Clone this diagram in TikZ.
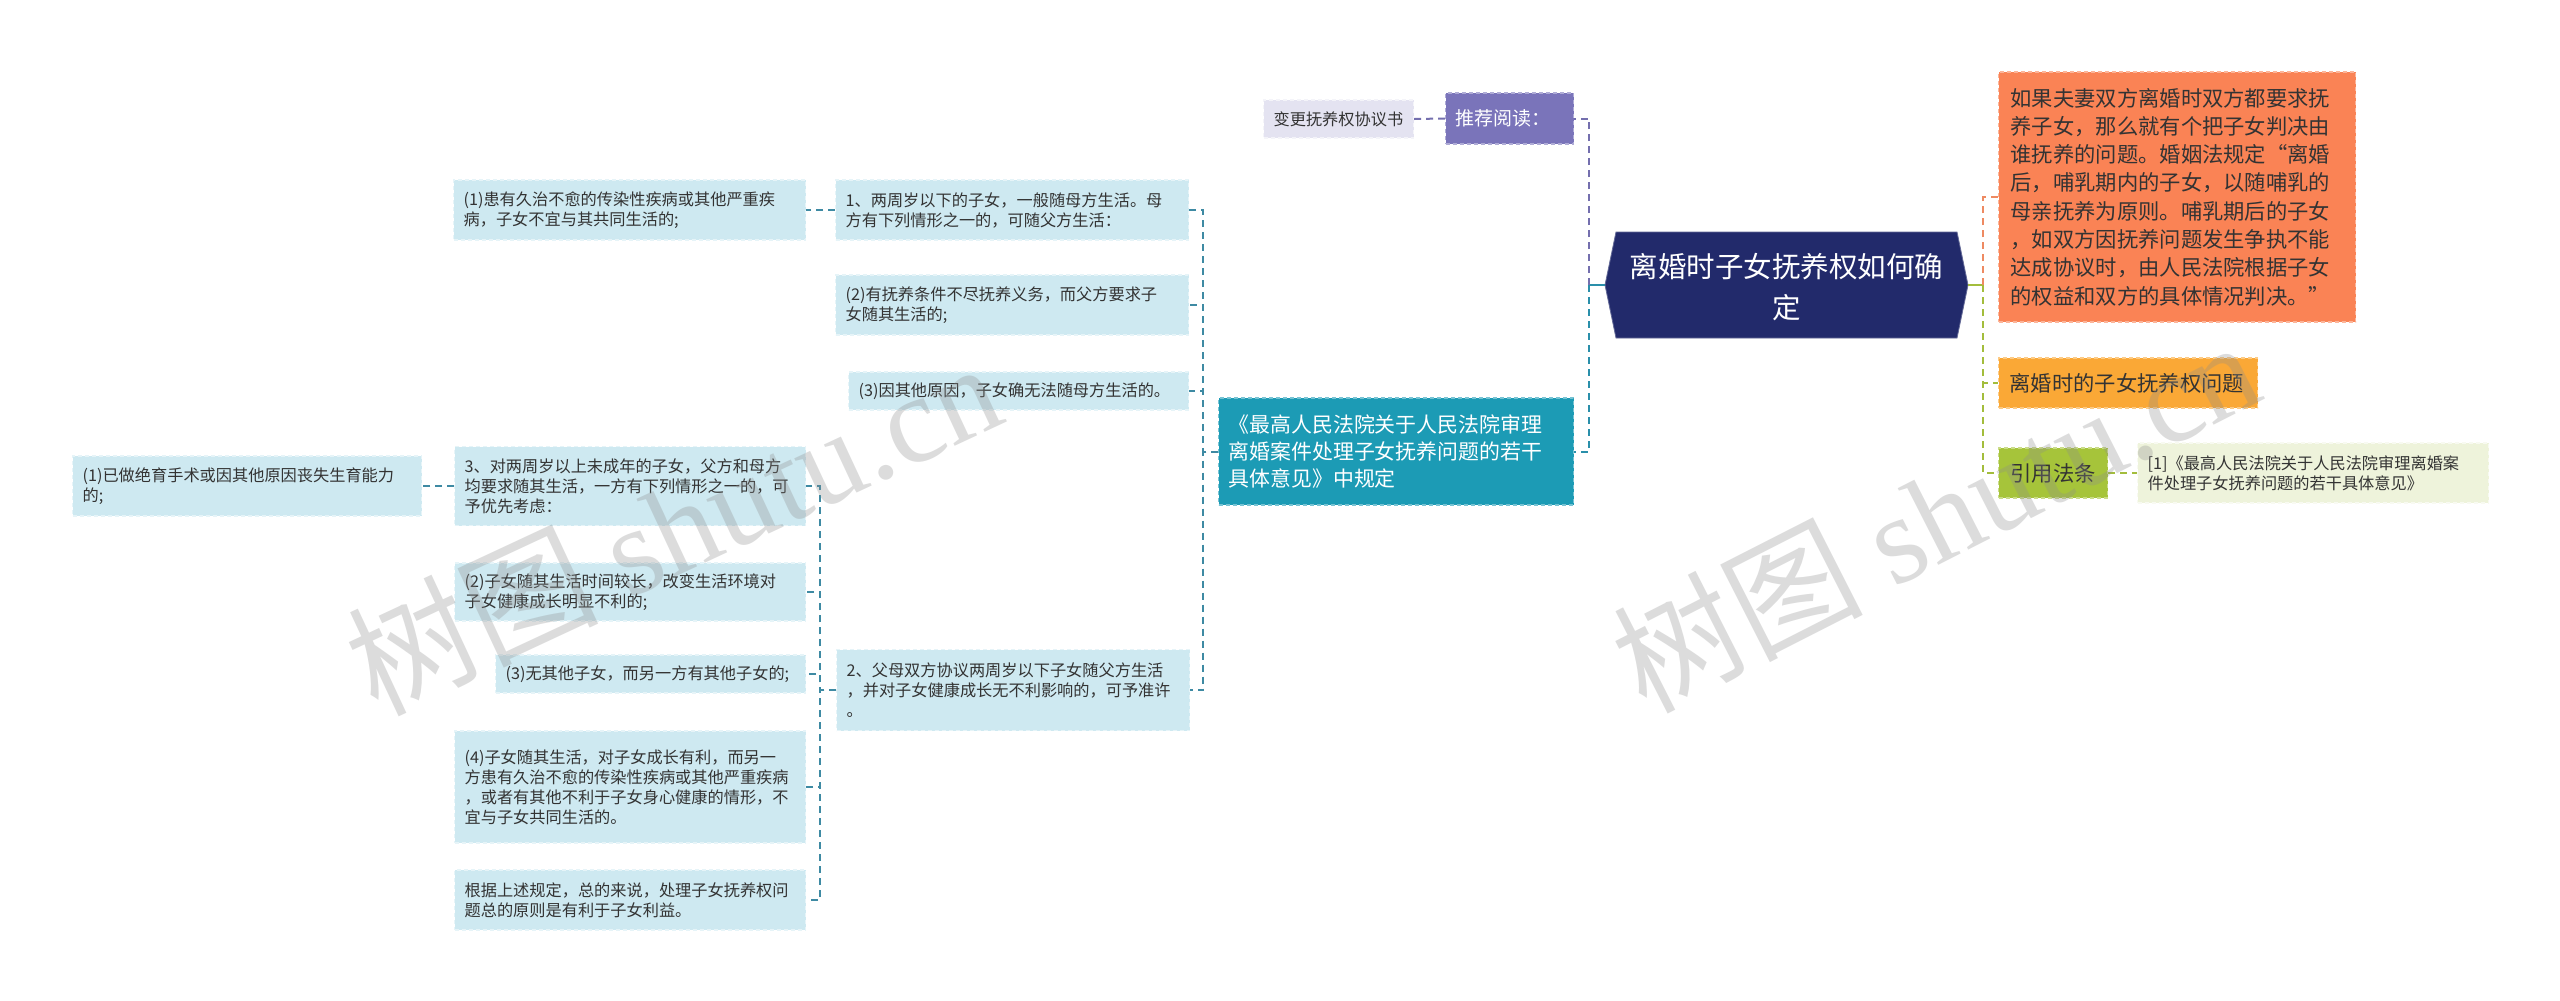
\documentclass[tikz,border=0pt]{standalone}
\usepackage{fontspec}
\setmainfont{Noto Sans CJK SC}
\newfontfamily\wmfont{Liberation Serif}
\usetikzlibrary{calc}
\definecolor{rootfill}{HTML}{222A6B}
\definecolor{lbfill}{HTML}{CEE9F1}
\definecolor{linec}{HTML}{3E8AA3}
\definecolor{tealfill}{HTML}{1C9BB5}
\definecolor{tealline}{HTML}{2A8FAA}
\definecolor{purpfill}{HTML}{7A74BA}
\definecolor{purpline}{HTML}{746FAE}
\definecolor{lavfill}{HTML}{E4E3F1}
\definecolor{orangefill}{HTML}{FA8355}
\definecolor{orangeline}{HTML}{EE8A62}
\definecolor{yellowfill}{HTML}{FAA836}
\definecolor{greenfill}{HTML}{A6C43A}
\definecolor{greenline}{HTML}{A3BD3C}
\definecolor{citefill}{HTML}{EEF3DB}
\definecolor{txt}{HTML}{333333}
\newcommand\fsz[2]{\fontsize{#1pt}{#2pt}\selectfont}
\begin{document}
\begin{tikzpicture}[x=1pt,y=-1pt,
  box/.style={anchor=west, inner xsep=10pt, inner ysep=3pt, align=left, text=txt,
    line width=1.2pt, dash pattern=on 4pt off 3pt},
  small/.style={font=\fsz{16.2}{20}},
  lb/.style={box, small, fill=lbfill, draw=lbfill!50!white},
  conn/.style={line width=2pt, dash pattern=on 7pt off 5pt},
  stub/.style={line width=2.5pt}
]
\useasboundingbox (0,0) rectangle (2560,1001);
\fill[white] (0,0) rectangle (2560,1001);

% ---------- root ----------
\coordinate (rootW) at (1605,285);
\coordinate (rootE) at (1968,285);
\fill[rootfill] (rootW) -- (1616,232) -- (1957,232) -- (rootE) -- (1957,338) -- (1616,338) -- cycle;
\draw[rootfill!70!white, line width=0.8pt] (rootW) -- (1616,232) -- (1957,232) -- (rootE) -- (1957,338) -- (1616,338) -- cycle;
\node[align=center, text=white, font=\fsz{28.5}{41}] (root) at (1786.5,287) {离婚时子女抚养权如何确\\定};

% ---------- upper / left main branches ----------
\node[box, font=\fsz{19}{24}, text=white, fill=purpfill, draw=purpfill!60!white, text width=108pt, minimum height=51pt] (purp) at (1445,118.5) {推荐阅读：};
\node[box, small, fill=lavfill, draw=lavfill!40!white, text width=130pt, minimum height=38pt] (lav) at (1263,119) {变更抚养权协议书};

\node[box, font=\fsz{20.9}{27}, text=white, fill=tealfill, draw=tealfill!60!white, text width=335pt, minimum height=107pt] (teal) at (1218,451.5)
  {《最高人民法院关于人民法院审理\\离婚案件处理子女抚养问题的若干\\具体意见》中规定};

\node[lb, text width=333pt, minimum height=60pt] (B1) at (835,210) {1、两周岁以下的子女，一般随母方生活。母\\方有下列情形之一的，可随父方生活：};
\node[lb, text width=332pt, minimum height=60pt] (A1) at (453,210) {(1)患有久治不愈的传染性疾病或其他严重疾\\病，子女不宜与其共同生活的;};
\node[lb, text width=333pt, minimum height=60pt] (B2) at (835,305) {(2)有抚养条件不尽抚养义务，而父方要求子\\女随其生活的;};
\node[lb, text width=320pt, minimum height=38pt] (B3) at (848,391) {(3)因其他原因，子女确无法随母方生活的。};
\node[lb, text width=333pt, minimum height=81pt] (C2) at (836,690) {2、父母双方协议两周岁以下子女随父方生活\\，并对子女健康成长无不利影响的，可予准许\\。};

\node[lb, text width=331pt, minimum height=79pt] (C3) at (454,486) {3、对两周岁以上未成年的子女，父方和母方\\均要求随其生活，一方有下列情形之一的，可\\予优先考虑：};
\node[lb, text width=329pt, minimum height=60pt] (D1) at (72,486) {(1)已做绝育手术或因其他原因丧失生育能力\\的;};
\node[lb, text width=331pt, minimum height=58pt] (C4) at (454,592) {(2)子女随其生活时间较长，改变生活环境对\\子女健康成长明显不利的;};
\node[lb, text width=290pt, minimum height=38pt] (C5) at (495,674) {(3)无其他子女，而另一方有其他子女的;};
\node[lb, text width=331pt, minimum height=112pt] (C6) at (454,787) {(4)子女随其生活，对子女成长有利，而另一\\方患有久治不愈的传染性疾病或其他严重疾病\\，或者有其他不利于子女身心健康的情形，不\\宜与子女共同生活的。};
\node[lb, text width=331pt, minimum height=60pt] (C7) at (454,900) {根据上述规定，总的来说，处理子女抚养权问\\题总的原则是有利于子女利益。};

% ---------- right branches ----------
\node[box, inner xsep=12pt, font=\fsz{21.3}{28.3}, fill=orangefill, draw=orangefill!60!white, text width=333pt, minimum height=250pt] (orange) at (1998,197)
  {如果夫妻双方离婚时双方都要求抚\\养子女，那么就有个把子女判决由\\谁抚养的问题。婚姻法规定“离婚\\后，哺乳期内的子女，以随哺乳的\\母亲抚养为原则。哺乳期后的子女\\，如双方因抚养问题发生争执不能\\达成协议时，由人民法院根据子女\\的权益和双方的具体情况判决。”};
\node[box, inner xsep=11pt, font=\fsz{21.3}{27}, fill=yellowfill, draw=yellowfill!60!white, text width=237pt, minimum height=50pt] (yellow) at (1998,383) {离婚时的子女抚养权问题};
\node[box, inner xsep=12pt, font=\fsz{21.3}{27}, fill=greenfill, draw=greenfill!60!white, text width=85pt, minimum height=50pt] (green) at (1998,473) {引用法条};
\node[box, small, fill=citefill, draw=citefill!40!white, text width=331pt, minimum height=60pt] (cite) at (2137,473) {[1]《最高人民法院关于人民法院审理离婚案\\件处理子女抚养问题的若干具体意见》};

% ---------- connectors ----------
\coordinate (spL) at (1589,285);
\coordinate (spT) at (1203,451.5);
\coordinate (spC) at (820,690);
\coordinate (spR) at (1983,285);

\draw[stub, tealline] (rootW) -- (spL);
\draw[conn, purpline] (spL) |- (purp.east);
\draw[conn, tealline] (spL) |- (teal.east);
\draw[conn, purpline] (purp.west) -- (lav.east);

\foreach \c in {B1,B2,B3,C2}
  \draw[conn, linec] (teal.west) -- (spT) |- (\c.east);
\draw[conn, linec] (B1.west) -- (A1.east);
\foreach \c in {C3,C4,C5,C6,C7}
  \draw[conn, linec] (C2.west) -- (spC) |- (\c.east);
\draw[conn, linec] (C3.west) -- (D1.east);

\draw[stub, greenline] (rootE) -- (spR);
\draw[conn, orangeline] (spR) |- (orange.west);
\draw[conn, greenline] (spR) |- (yellow.west);
\draw[conn, greenline] (spR) |- (green.west);
\draw[conn, greenline] (green.east) -- (cite.west);

% ---------- watermarks ----------
\node[rotate=25, text=black!45, opacity=0.3, font=\fsz{125}{130}] (wm1) at (673,526) {树图 {\wmfont shutu.cn}};
\node[rotate=27, text=black!45, opacity=0.3, font=\fsz{125}{130}] (wm2) at (1935,514) {树图 {\wmfont shutu.cn}};
\end{tikzpicture}
\end{document}
